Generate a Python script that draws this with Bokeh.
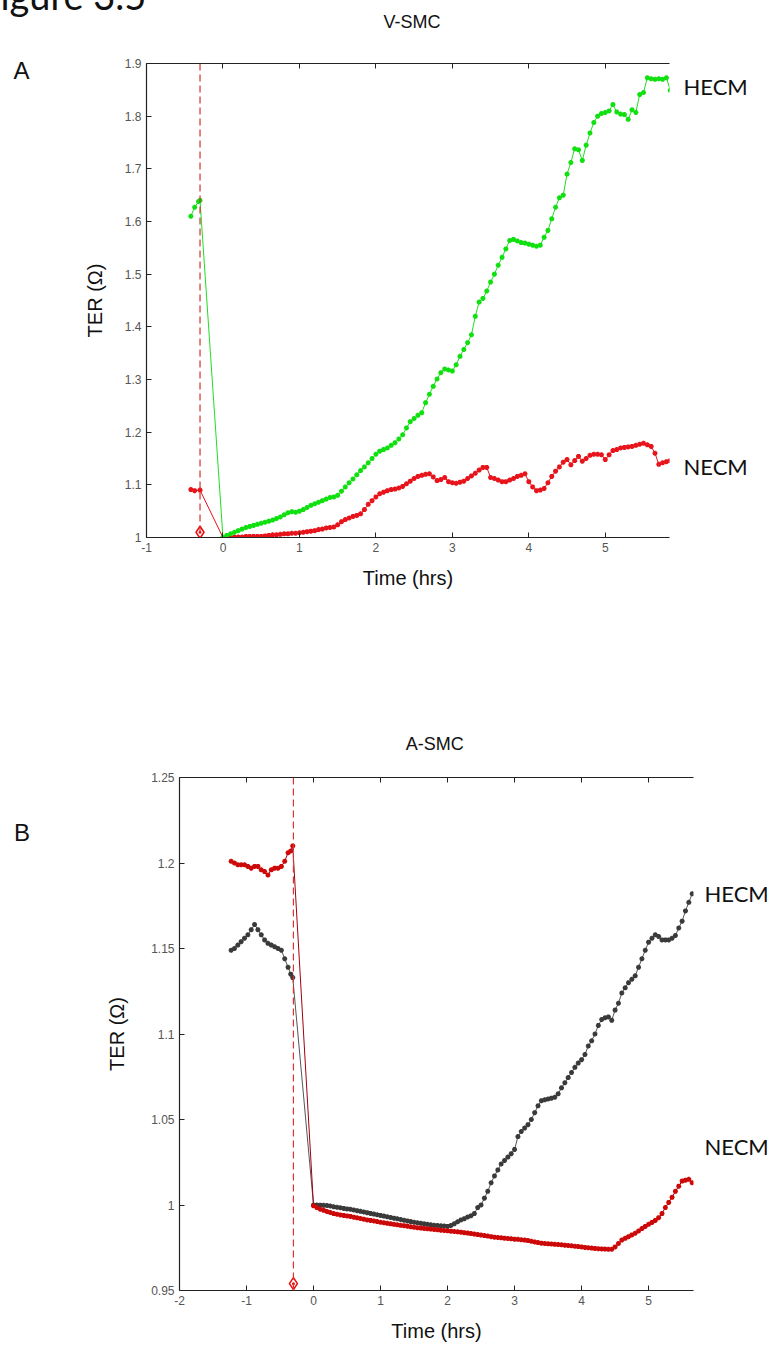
import numpy as np
from bokeh.plotting import figure
from bokeh.layouts import column, row
from bokeh.models import Range1d, LinearAxis, FixedTicker, Span, Div
from bokeh.embed import file_html
from bokeh.resources import INLINE

STEP_HRS = 0.05  # sampling interval of the recordings after the treatment

# ---------------- Panel A: V-SMC ----------------
a_pre_t_hecm = [-0.42, -0.37, -0.32, -0.30]
a_pre_hecm = [1.610, 1.627, 1.638, 1.640]
a_pre_t_necm = [-0.42, -0.37, -0.30]
a_pre_necm = [1.091, 1.089, 1.090]

a_hecm = [
    1.000, 1.004, 1.007, 1.010, 1.013, 1.016, 1.019, 1.021, 1.023, 1.025,
    1.027, 1.029, 1.031, 1.033, 1.036, 1.039, 1.043, 1.047, 1.049, 1.048,
    1.050, 1.053, 1.057, 1.061, 1.064, 1.067, 1.070, 1.073, 1.076, 1.077,
    1.080, 1.088, 1.096, 1.104, 1.111, 1.119, 1.127, 1.134, 1.142, 1.150,
    1.158, 1.164, 1.167, 1.170, 1.175, 1.180, 1.187, 1.195, 1.208, 1.220,
    1.226, 1.232, 1.237, 1.256, 1.272, 1.287, 1.301, 1.313, 1.320, 1.318,
    1.316, 1.328, 1.344, 1.357, 1.370, 1.385, 1.420, 1.447, 1.454, 1.468,
    1.485, 1.500, 1.517, 1.532, 1.548, 1.564, 1.566, 1.563, 1.560, 1.559,
    1.557, 1.555, 1.553, 1.555, 1.570, 1.583, 1.605, 1.627, 1.645, 1.650,
    1.690, 1.712, 1.738, 1.736, 1.716, 1.745, 1.768, 1.788, 1.800, 1.805,
    1.807, 1.810, 1.822, 1.808, 1.804, 1.803, 1.794, 1.812, 1.807, 1.841,
    1.845, 1.873, 1.871, 1.870, 1.871, 1.870, 1.873, 1.849,
]
a_necm = [
    1.000, 1.000, 1.000, 1.001, 1.001, 1.001, 1.002, 1.002, 1.002, 1.002,
    1.002, 1.003, 1.004, 1.005, 1.005, 1.006, 1.007, 1.007, 1.008, 1.008,
    1.009, 1.010, 1.011, 1.012, 1.013, 1.015, 1.016, 1.018, 1.019, 1.020,
    1.024, 1.030, 1.034, 1.037, 1.040, 1.042, 1.045, 1.053, 1.063, 1.070,
    1.077, 1.083, 1.086, 1.089, 1.091, 1.092, 1.094, 1.097, 1.102, 1.107,
    1.112, 1.116, 1.118, 1.120, 1.121, 1.115, 1.108, 1.110, 1.114, 1.106,
    1.104, 1.103, 1.105, 1.107, 1.112, 1.117, 1.122, 1.128, 1.133, 1.133,
    1.114, 1.112, 1.109, 1.106, 1.106, 1.109, 1.112, 1.116, 1.118, 1.121,
    1.106, 1.096, 1.089, 1.090, 1.093, 1.104, 1.116, 1.126, 1.134, 1.143,
    1.148, 1.138, 1.146, 1.154, 1.145, 1.150, 1.156, 1.158, 1.158, 1.157,
    1.148, 1.157, 1.165, 1.167, 1.170, 1.171, 1.172, 1.173, 1.175, 1.177,
    1.179, 1.176, 1.173, 1.160, 1.139, 1.142, 1.144, 1.146,
]
a_xticks = [-1, 0, 1, 2, 3, 4, 5]
a_xtick_labels = ["-1", "0", "1", "2", "3", "4", "5"]
a_yticks = [1.0, 1.1, 1.2, 1.3, 1.4, 1.5, 1.6, 1.7, 1.8, 1.9]
a_ytick_labels = ["1", "1.1", "1.2", "1.3", "1.4", "1.5", "1.6", "1.7", "1.8", "1.9"]
a_event_t = -0.3
a_event_y = 1.01
a_series_names = ["HECM", "NECM"]
a_name_levels = [1.857, 1.134]      # TER level where each series name sits
a_title = "V-SMC"
a_letter, a_letter_y = "A", 1.886

# ---------------- Panel B: A-SMC ----------------
b_pre_t = [-1.23, -1.18, -1.13, -1.08, -1.03, -0.98, -0.93, -0.88, -0.83, -0.78,
           -0.73, -0.68, -0.63, -0.58, -0.53, -0.48, -0.43, -0.38, -0.34, -0.31]
b_pre_hecm = [1.149, 1.150, 1.152, 1.154, 1.156, 1.158, 1.161, 1.164, 1.161, 1.158,
              1.155, 1.153, 1.152, 1.151, 1.150, 1.149, 1.144, 1.139, 1.135, 1.133]
b_pre_necm = [1.201, 1.200, 1.199, 1.199, 1.199, 1.198, 1.197, 1.198, 1.198, 1.196,
              1.195, 1.193, 1.196, 1.197, 1.197, 1.198, 1.201, 1.206, 1.207, 1.210]

b_hecm = [
    1.0000, 1.0000, 0.9999, 0.9998, 0.9997, 0.9994, 0.9990, 0.9987, 0.9984, 0.9980,
    0.9977, 0.9975, 0.9971, 0.9967, 0.9963, 0.9959, 0.9955, 0.9951, 0.9947, 0.9943,
    0.9939, 0.9935, 0.9931, 0.9927, 0.9923, 0.9919, 0.9915, 0.9911, 0.9907, 0.9903,
    0.9899, 0.9896, 0.9893, 0.9890, 0.9887, 0.9884, 0.9881, 0.9880, 0.9878, 0.9877,
    0.9875, 0.9880, 0.9890, 0.9902, 0.9913, 0.9920, 0.9930, 0.9937, 0.9950, 0.9985,
    1.0000, 1.0040, 1.0080, 1.0130, 1.0170, 1.0205, 1.0240, 1.0260, 1.0280, 1.0300,
    1.0325, 1.0400, 1.0430, 1.0450, 1.0470, 1.0500, 1.0540, 1.0580, 1.0610, 1.0615,
    1.0620, 1.0625, 1.0630, 1.0650, 1.0685, 1.0715, 1.0745, 1.0775, 1.0805, 1.0830,
    1.0850, 1.0880, 1.0930, 1.0960, 1.1000, 1.1050, 1.1085, 1.1095, 1.1100, 1.1080,
    1.1140, 1.1180, 1.1240, 1.1270, 1.1300, 1.1320, 1.1340, 1.1390, 1.1440, 1.1490,
    1.1537, 1.1560, 1.1580, 1.1570, 1.1550, 1.1550, 1.1550, 1.1560, 1.1576, 1.1620,
    1.1660, 1.1720, 1.1770, 1.1820,
]
b_necm = [
    0.9995, 0.9985, 0.9975, 0.9969, 0.9962, 0.9956, 0.9950, 0.9946, 0.9942, 0.9939,
    0.9936, 0.9933, 0.9929, 0.9925, 0.9921, 0.9917, 0.9913, 0.9910, 0.9907, 0.9903,
    0.9899, 0.9896, 0.9893, 0.9890, 0.9887, 0.9884, 0.9881, 0.9879, 0.9876, 0.9873,
    0.9870, 0.9867, 0.9865, 0.9863, 0.9861, 0.9859, 0.9857, 0.9855, 0.9853, 0.9851,
    0.9849, 0.9847, 0.9845, 0.9843, 0.9841, 0.9838, 0.9836, 0.9833, 0.9830, 0.9827,
    0.9824, 0.9821, 0.9818, 0.9815, 0.9812, 0.9810, 0.9808, 0.9806, 0.9804, 0.9802,
    0.9800, 0.9799, 0.9797, 0.9795, 0.9792, 0.9788, 0.9784, 0.9780, 0.9777, 0.9775,
    0.9773, 0.9772, 0.9770, 0.9769, 0.9767, 0.9765, 0.9763, 0.9761, 0.9759, 0.9757,
    0.9755, 0.9752, 0.9750, 0.9748, 0.9746, 0.9744, 0.9743, 0.9742, 0.9741, 0.9741,
    0.9755, 0.9775, 0.9795, 0.9805, 0.9815, 0.9825, 0.9835, 0.9848, 0.9862, 0.9875,
    0.9887, 0.9898, 0.9910, 0.9926, 0.9950, 0.9985, 1.0015, 1.0045, 1.0080, 1.0110,
    1.0140, 1.0145, 1.0150, 1.0130,
]
b_xticks = [-2, -1, 0, 1, 2, 3, 4, 5]
b_xtick_labels = ["-2", "-1", "0", "1", "2", "3", "4", "5"]
b_yticks = [0.95, 1.0, 1.05, 1.1, 1.15, 1.2, 1.25]
b_ytick_labels = ["0.95", "1", "1.05", "1.1", "1.15", "1.2", "1.25"]
b_event_t = -0.3
b_event_y = 0.954
b_series_names = ["HECM", "NECM"]
b_name_levels = [1.182, 1.034]
b_title, b_title_t = "A-SMC", 1.81
b_letter = "B"

FIGURE_CAPTION = "Figure 3.5"
TICK_FONT = "Liberation Sans"
CAPTION_FONT = "Lato"


def post_times(vals):
    return [round(i * STEP_HRS, 2) for i in range(len(vals))]


def text_axis(ticks, labels, size, font, standoff):
    """An axis with no line or ticks, used only to carry text in a border."""
    ax = LinearAxis(ticker=FixedTicker(ticks=ticks),
                    major_label_overrides={float(t): s for t, s in zip(ticks, labels)})
    ax.axis_line_color = None
    ax.major_tick_line_color = None
    ax.minor_tick_line_color = None
    ax.major_tick_in = 0
    ax.major_tick_out = 0
    ax.minor_tick_in = 0
    ax.minor_tick_out = 0
    ax.major_label_standoff = standoff
    ax.major_label_text_font = font
    ax.major_label_text_font_size = size
    ax.major_label_text_color = "#111111"
    return ax


def style_axes(p, xticks, xlabels, yticks, ylabels, ylabel_standoff):
    p.xaxis.ticker = FixedTicker(ticks=xticks)
    p.yaxis.ticker = FixedTicker(ticks=yticks)
    p.xaxis.major_label_overrides = {float(t): s for t, s in zip(xticks, xlabels)}
    p.yaxis.major_label_overrides = {float(t): s for t, s in zip(yticks, ylabels)}
    for ax in p.xaxis + p.yaxis:
        ax.axis_line_color = "#222222"
        ax.axis_line_width = 1.2
        ax.major_tick_in = 5
        ax.major_tick_out = 0
        ax.minor_tick_line_color = None
        ax.major_tick_line_color = "#222222"
        ax.major_label_text_font = TICK_FONT
        ax.major_label_text_font_size = "12px"
        ax.major_label_text_color = "#555555"
        ax.axis_label_text_font = TICK_FONT
        ax.axis_label_text_font_size = "20px"
        ax.axis_label_text_font_style = "normal"
        ax.axis_label_text_color = "#111111"
    p.xaxis.axis_label = "Time (hrs)"
    p.xaxis.axis_label_standoff = 12
    p.yaxis.axis_label = "TER (Ω)"
    p.yaxis.axis_label_standoff = ylabel_standoff
    # top frame line with inward ticks, no labels
    top = LinearAxis(ticker=FixedTicker(ticks=xticks))
    top.major_tick_in = 5
    top.major_tick_out = 0
    top.minor_tick_line_color = None
    top.major_label_text_color = None
    top.major_label_text_font_size = "1px"
    top.major_label_standoff = 0
    top.axis_line_color = "#222222"
    top.axis_line_width = 1.2
    top.major_tick_line_color = "#222222"
    p.add_layout(top, "above")


# ----- heading strip: figure caption and the V-SMC panel title -----
heading = Div(
    text=('<div style="position:relative; width:773px; height:40px; overflow:hidden">'
          f'<span style="position:absolute; left:-21px; top:-24px; font-family:Lato; '
          f'font-size:38px; line-height:38px; white-space:nowrap; color:#111111">{FIGURE_CAPTION}</span>'
          f'<span style="position:absolute; left:412px; top:13px; transform:translateX(-50%); '
          f'font-family:\'Liberation Sans\'; font-size:18px; line-height:18px; white-space:nowrap; '
          f'color:#111111">{a_title}</span>'
          '</div>'),
    width=773, height=40, margin=0)

# ----- figure A -----
pa = figure(width=773, height=640, x_range=Range1d(-1, 5.84), y_range=Range1d(1.0, 1.9),
            output_backend="svg", toolbar_location=None,
            min_border_left=146, min_border_right=104, min_border_top=23, min_border_bottom=143)
pa.outline_line_color = None
pa.grid.visible = False
style_axes(pa, a_xticks, a_xtick_labels, a_yticks, a_ytick_labels, 16)
pa.add_layout(text_axis([a_letter_y], [a_letter], "24px", TICK_FONT, 51), "left")
pa.add_layout(text_axis(a_name_levels, a_series_names, "22px", CAPTION_FONT, 14), "right")

pa.add_layout(Span(location=a_event_t, dimension="height", line_color="#d03030",
                   line_dash="7 4", line_width=1.2))

ta_h = a_pre_t_hecm + post_times(a_hecm)
ya_h = a_pre_hecm + a_hecm
ta_n = a_pre_t_necm + post_times(a_necm)
ya_n = a_pre_necm + a_necm
pa.line(ta_n, ya_n, line_color="#e0141c", line_width=1)
pa.scatter(ta_n, ya_n, marker="asterisk", size=5, line_color="#e8141c", line_width=1.6)
pa.line(ta_h, ya_h, line_color="#22dd22", line_width=1)
pa.scatter(ta_h, ya_h, marker="asterisk", size=5, line_color="#10e010", line_width=1.6)
pa.scatter([a_event_t], [a_event_y], marker="diamond_dot", size=12, fill_color=None,
           line_color="#ee1111", line_width=1.6)

# ----- figure B -----
pb = figure(width=740, height=677, x_range=Range1d(-2, 5.67), y_range=Range1d(0.95, 1.25),
            output_backend="svg", toolbar_location=None,
            min_border_left=146, min_border_right=80, min_border_top=97, min_border_bottom=67)
pb.outline_line_color = None
pb.grid.visible = False
style_axes(pb, b_xticks, b_xtick_labels, b_yticks, b_ytick_labels, 20)
pb.add_layout(text_axis([b_title_t], [b_title], "18px", TICK_FONT, 24), "above")
pb.add_layout(text_axis(b_name_levels, b_series_names, "22px", CAPTION_FONT, 11), "right")

pb.add_layout(Span(location=b_event_t, dimension="height", line_color="#e03030",
                   line_dash="7 4", line_width=1.2))

tb_h = b_pre_t + post_times(b_hecm)
yb_h = b_pre_hecm + b_hecm
tb_n = b_pre_t + post_times(b_necm)
yb_n = b_pre_necm + b_necm
pb.line(tb_h, yb_h, line_color="#555555", line_width=1)
pb.scatter(tb_h, yb_h, marker="asterisk", size=5, line_color="#3a3a3a", line_width=1.6)
pb.line(tb_n, yb_n, line_color="#a00010", line_width=1)
pb.scatter(tb_n, yb_n, marker="asterisk", size=5, line_color="#cc0808", line_width=1.6)
pb.scatter([b_event_t], [b_event_y], marker="diamond_dot", size=12, fill_color=None,
           line_color="#ee1111", line_width=1.6)

# panel letter beside figure B
letter_b = Div(
    text=('<div style="position:relative; top:141px; left:14px; font-family:\'Liberation Sans\'; '
          f'font-size:24px; line-height:24px; color:#111111">{b_letter}</div>'),
    width=33, height=677, margin=0)

layout = column(heading, pa, row(letter_b, pb, spacing=0), spacing=0)
open("out.html", "w").write(file_html(layout, INLINE))
